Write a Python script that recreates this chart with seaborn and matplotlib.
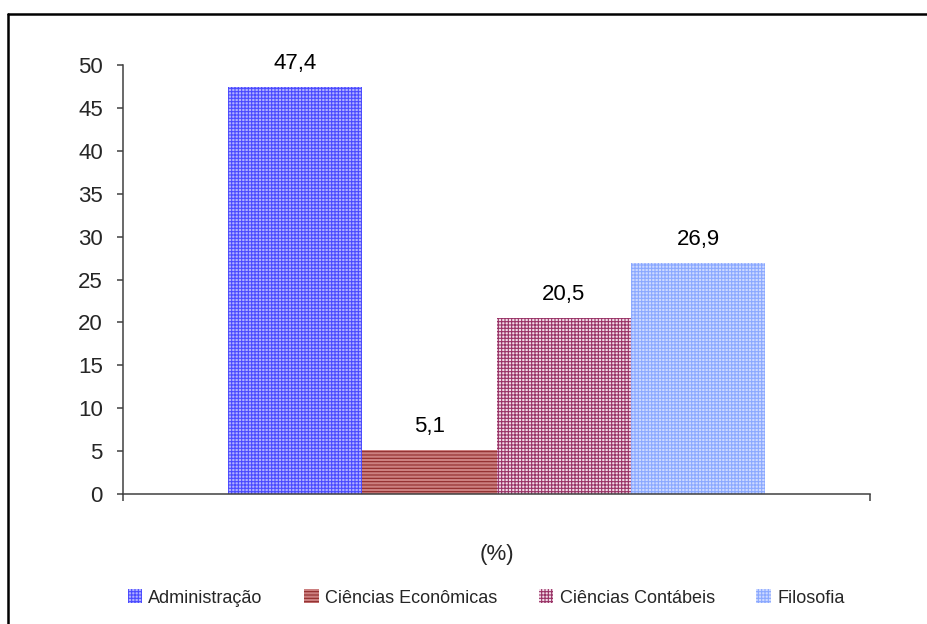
import matplotlib
matplotlib.use("Agg")
import matplotlib.pyplot as plt
import matplotlib.patches as mpatches
from matplotlib.lines import Line2D
import seaborn as sns
import pandas as pd

# ---- data ----
courses = ["Administração", "Ciências Econômicas", "Ciências Contábeis", "Filosofia"]
values = [47.4, 5.1, 20.5, 26.9]
value_labels = ["47,4", "5,1", "20,5", "26,9"]
category = "(%)"
yticks = [0, 5, 10, 15, 20, 25, 30, 35, 40, 45, 50]

face_colors = ["#b0b0ff", "#cc8080", "#f2dce8", "#cdd9ff"]
hatch_colors = ["#4a4aff", "#8f2a2a", "#993366", "#8aa8ff"]
hatches = ["+++++", "-----", "+++++", "+++++"]

sns.set_theme(style="white")
plt.rcParams["font.family"] = ["Liberation Sans", "DejaVu Sans"]
plt.rcParams["hatch.linewidth"] = 0.8

df = pd.DataFrame({"cat": [category] * len(courses), "course": courses, "value": values})

fig = plt.figure(figsize=(9.27, 6.24), dpi=100)
ax = fig.add_axes([123 / 927, 1 - 494 / 624, (870 - 123) / 927, (494 - 65) / 624])

sns.barplot(data=df, x="cat", y="value", hue="course", hue_order=courses,
            palette=dict(zip(courses, face_colors)), width=0.72, ax=ax,
            legend=False, saturation=1)

for cont, fc, hc, h, lab in zip(ax.containers, face_colors, hatch_colors, hatches, value_labels):
    for p in cont.patches:
        p.set_facecolor(fc)
        p.set_edgecolor(hc)
        p.set_hatch(h)
        p.set_linewidth(0)
        ax.annotate(lab, (p.get_x() + p.get_width() / 2, p.get_height()),
                    xytext=(0, 13), textcoords="offset points",
                    ha="center", va="baseline", fontsize=16, color="black")

ax.set_xlim(-0.5, 0.5)
ax.set_ylim(0, 50)
ax.set_yticks(yticks)
ax.set_yticklabels([str(v) for v in yticks], fontsize=16)
ax.set_xticks([0])
ax.set_xticklabels([category], fontsize=16)
ax.set_xticks([-0.5, 0.5], minor=True)
ax.tick_params(axis="x", which="major", length=0, pad=36)
ax.tick_params(axis="x", which="minor", length=5, width=1.1, color="#404040", direction="out", bottom=True)
ax.tick_params(axis="y", which="major", length=4.5, width=1.1, color="#404040", direction="out", left=True, pad=10)
ax.set_xlabel("")
ax.set_ylabel("")
for s in ["top", "right"]:
    ax.spines[s].set_visible(False)
for s in ["left", "bottom"]:
    ax.spines[s].set_color("#404040")
    ax.spines[s].set_linewidth(1.1)

handles = [mpatches.Patch(facecolor=fc, edgecolor=hc, hatch=h, linewidth=0, label=c)
           for c, fc, hc, h in zip(courses, face_colors, hatch_colors, hatches)]
fig.legend(handles=handles, loc="center", bbox_to_anchor=(486 / 927, 1 - 598 / 624),
           ncol=4, frameon=False, fontsize=13, handlelength=0.8, handleheight=0.8,
           handletextpad=0.35, columnspacing=2.3)

# outer border (top and left visible)
fig.add_artist(Line2D([8 / 927, 1.0], [1 - 14 / 624, 1 - 14 / 624], transform=fig.transFigure,
                      color="black", linewidth=1.8))
fig.add_artist(Line2D([8 / 927, 8 / 927], [0.0, 1 - 14 / 624], transform=fig.transFigure,
                      color="black", linewidth=1.8))

fig.savefig("out.png", dpi=100, facecolor="white")
